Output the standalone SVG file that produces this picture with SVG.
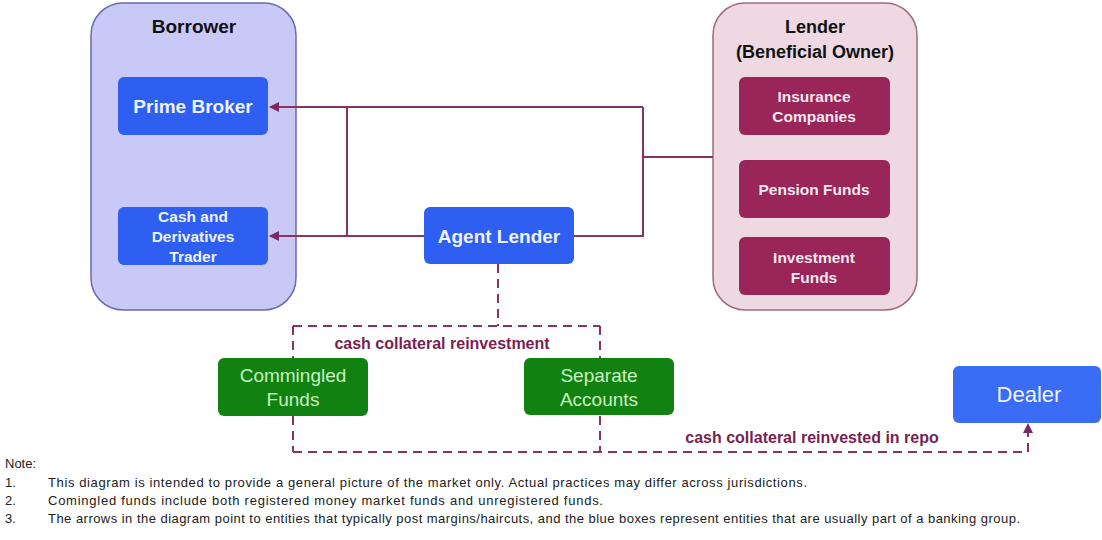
<svg xmlns="http://www.w3.org/2000/svg" width="1102" height="540" viewBox="0 0 1102 540">
<style>
.grp{font-family:"Liberation Sans",Arial,sans-serif}
.blue{fill:#2f5ff0}
.maroon{fill:#9a2558}
.green{fill:#118211}
.wb{fill:#eef2ff;font-weight:bold;text-anchor:middle}
.mb{fill:#f3e6ee;font-weight:bold;text-anchor:middle;font-size:15.5px}
.gt{fill:#c8f0c0;text-anchor:middle;font-size:19px}
.ttl{fill:#111;font-weight:bold;text-anchor:middle}
.conn{fill:none;stroke:#8a3262;stroke-width:2}
.dash{fill:none;stroke:#8a3262;stroke-width:2;stroke-dasharray:9,6}
.lbl{fill:#7a1f52;font-weight:bold;font-size:16px}
.note{fill:#222;font-size:13px}
</style>
<defs>
<marker id="ah" viewBox="0 0 10 10" refX="9" refY="5" markerWidth="5" markerHeight="5" orient="auto">
<path d="M0,0 L10,5 L0,10 z" fill="#7a2a62"/>
</marker>
</defs>
<rect width="1102" height="540" fill="#ffffff"/>
<g class="grp">
<g id="borrower">
<rect x="91" y="3" width="205" height="307" rx="32" fill="#c9c9f8" stroke="#6a6ab0" stroke-width="1.5"/>
<text class="ttl" x="194" y="33" font-size="19">Borrower</text>
</g>
<g id="lender">
<rect x="713" y="3" width="204" height="307" rx="32" fill="#eed8e1" stroke="#a06a80" stroke-width="1.5"/>
<text class="ttl" x="815" y="33" font-size="18">Lender</text>
<text class="ttl" x="815" y="58" font-size="18">(Beneficial Owner)</text>
</g>
<g id="connectors">
<path class="conn" d="M643,107 L270,107" marker-end="url(#ah)"/>
<path class="conn" d="M424,236 L270,236" marker-end="url(#ah)"/>
<path class="conn" d="M347,107 L347,236"/>
<path class="conn" d="M574,236 L643,236 L643,107"/>
<path class="conn" d="M643,157 L713,157"/>
<path class="dash" d="M498,264 L498,326"/>
<path class="dash" d="M293,326 L600,326"/>
<path class="dash" d="M293,326 L293,452"/>
<path class="dash" d="M600,326 L600,452"/>
<path class="dash" d="M293,452 L1028,452 L1028,424" marker-end="url(#ah)"/>
<text class="lbl" x="442" y="349" text-anchor="middle">cash collateral reinvestment</text>
<text class="lbl" x="812" y="443" text-anchor="middle">cash collateral reinvested in repo</text>
</g>
<g id="prime-broker">
<rect class="blue" x="118" y="77" width="150" height="58" rx="6"/>
<text class="wb" x="193" y="113" font-size="19">Prime Broker</text>
</g>
<g id="cash-derivatives-trader">
<rect class="blue" x="118" y="207" width="150" height="58" rx="6"/>
<text class="wb" x="193" y="222" font-size="15.5">Cash and</text>
<text class="wb" x="193" y="242" font-size="15.5">Derivatives</text>
<text class="wb" x="193" y="262" font-size="15.5">Trader</text>
</g>
<g id="agent-lender">
<rect class="blue" x="424" y="207" width="150" height="57" rx="6"/>
<text class="wb" x="499" y="243" font-size="19">Agent Lender</text>
</g>
<g id="insurance-companies">
<rect class="maroon" x="739" y="77" width="151" height="58" rx="6"/>
<text class="mb" x="814" y="102">Insurance</text>
<text class="mb" x="814" y="122">Companies</text>
</g>
<g id="pension-funds">
<rect class="maroon" x="739" y="160" width="151" height="58" rx="6"/>
<text class="mb" x="814" y="195" font-size="16">Pension Funds</text>
</g>
<g id="investment-funds">
<rect class="maroon" x="739" y="237" width="151" height="58" rx="6"/>
<text class="mb" x="814" y="263">Investment</text>
<text class="mb" x="814" y="283">Funds</text>
</g>
<g id="commingled-funds">
<rect class="green" x="218" y="358" width="150" height="58" rx="6"/>
<text class="gt" x="293" y="382">Commingled</text>
<text class="gt" x="293" y="406">Funds</text>
</g>
<g id="separate-accounts">
<rect class="green" x="524" y="358" width="150" height="57" rx="6"/>
<text class="gt" x="599" y="382">Separate</text>
<text class="gt" x="599" y="406">Accounts</text>
</g>
<g id="dealer">
<rect x="953" y="366" width="148" height="57" rx="6" fill="#3a6cf5"/>
<text x="1029" y="402" font-size="22" fill="#eef2ff" text-anchor="middle">Dealer</text>
</g>
<g id="notes">
<text class="note" x="5" y="468">Note:</text>
<text class="note" x="5" y="487">1.</text>
<text class="note" x="48" y="487" textLength="759" lengthAdjust="spacing">This diagram is intended to provide a general picture of the market only. Actual practices may differ across jurisdictions.</text>
<text class="note" x="5" y="505">2.</text>
<text class="note" x="48" y="505" textLength="555" lengthAdjust="spacing">Comingled funds include both registered money market funds and unregistered funds.</text>
<text class="note" x="5" y="523">3.</text>
<text class="note" x="48" y="523" textLength="972" lengthAdjust="spacing">The arrows in the diagram point to entities that typically post margins/haircuts, and the blue boxes represent entities that are usually part of a banking group.</text>
</g>
</g>
</svg>
